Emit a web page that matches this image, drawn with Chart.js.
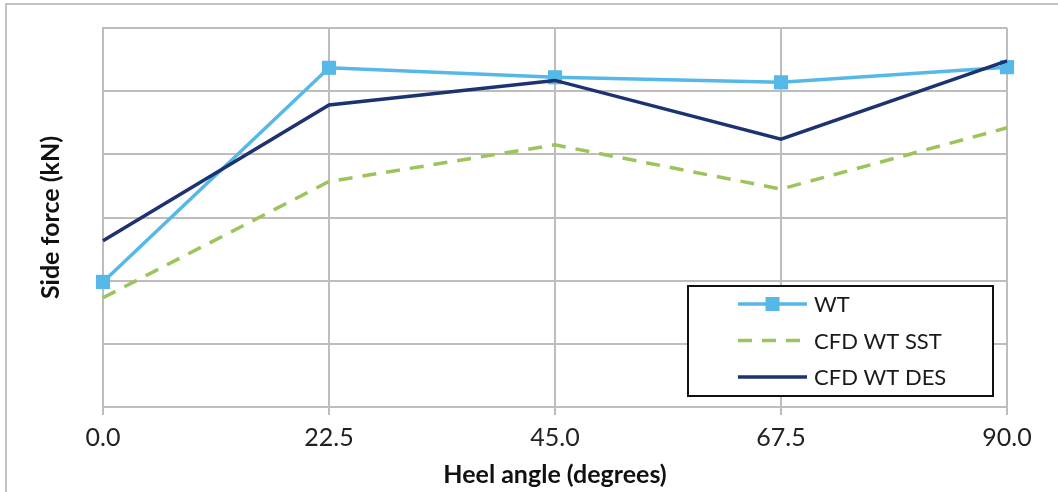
<!DOCTYPE html>
<html>
<head>
<meta charset="utf-8">
<script src="https://cdn.jsdelivr.net/npm/chart.js@4"></script>
<style>
  html, body { margin: 0; padding: 0; background: #fff; }
  #wrap { width: 1058px; height: 492px; position: relative; }
</style>
</head>
<body>
<div id="wrap"><canvas id="side_force_chart"></canvas></div>
<script>
// Heel angles (degrees) and side force readings
const heelAngles = [0, 22.5, 45, 67.5, 90];
const wtValues = [1.98, 5.37, 5.22, 5.14, 5.38];
const sstValues = [1.73, 3.57, 4.15, 3.45, 4.42];
const desValues = [2.63, 4.78, 5.17, 4.24, 5.48];
const xTicks = [0, 22.5, 45, 67.5, 90];

const seriesColours = {
  "WT": "#56B8E8",
  "CFD WT SST": "#9DC35B",
  "CFD WT DES": "#1D3270"
};

const fontFamily = "Lato, 'Open Sans', sans-serif";
const gridColour = "#BDBDBD";

function to_points(values) {
  return heelAngles.map((angle, i) => ({x: angle, y: values[i]}));
}

// outer frame of the original figure (only top and left edges are in view)
const framePlugin = {
  id: 'frame',
  beforeDraw(chart) {
    const ctx = chart.ctx;
    ctx.save();
    ctx.strokeStyle = "#B0B0B0";
    ctx.lineWidth = 1.5;
    ctx.beginPath();
    ctx.moveTo(6, chart.height);
    ctx.lineTo(6, 4);
    ctx.lineTo(chart.width, 4);
    ctx.stroke();
    ctx.restore();
  }
};

// boxed legend sitting inside the plot area, bottom right
const boxLegendPlugin = {
  id: 'boxLegend',
  afterDatasetsDraw(chart) {
    const ctx = chart.ctx;
    const area = chart.chartArea;
    const boxX = area.right - 319, boxY = area.bottom - 121, boxW = 305, boxH = 110;
    ctx.save();
    ctx.fillStyle = "#fff";
    ctx.fillRect(boxX, boxY, boxW, boxH);
    ctx.strokeStyle = "#111";
    ctx.lineWidth = 2;
    ctx.strokeRect(boxX, boxY, boxW, boxH);
    chart.data.datasets.forEach((ds, i) => {
      const rowY = boxY + 18 + i * 36.5;
      const x0 = boxX + 50, x1 = boxX + 119;
      ctx.strokeStyle = ds.borderColor;
      ctx.lineWidth = 3.5;
      ctx.setLineDash(ds.borderDash || []);
      ctx.beginPath();
      ctx.moveTo(x0, rowY);
      ctx.lineTo(x1, rowY);
      ctx.stroke();
      ctx.setLineDash([]);
      if (ds.pointRadius > 0) {
        ctx.fillStyle = ds.borderColor;
        ctx.fillRect((x0 + x1) / 2 - 7, rowY - 7, 14, 14);
      }
      ctx.fillStyle = "#1a1a1a";
      ctx.font = "22px " + fontFamily;
      ctx.textBaseline = "middle";
      ctx.fillText(ds.label, boxX + 126, rowY + 1);
    });
    ctx.restore();
  }
};

const graph = document.getElementById('side_force_chart');
new Chart(graph, {
  type: 'line',
  data: {
    datasets: [{
      label: "WT",
      data: to_points(wtValues),
      order: 3,
      clip: 12,
      borderColor: seriesColours["WT"],
      backgroundColor: seriesColours["WT"],
      borderWidth: 3.5,
      pointStyle: 'rect',
      pointRadius: 10,
      pointBorderWidth: 0,
      tension: 0
    }, {
      label: "CFD WT SST",
      data: to_points(sstValues),
      order: 2,
      clip: 12,
      borderColor: seriesColours["CFD WT SST"],
      backgroundColor: seriesColours["CFD WT SST"],
      borderWidth: 3.5,
      borderDash: [14, 10],
      pointRadius: 0,
      tension: 0
    }, {
      label: "CFD WT DES",
      data: to_points(desValues),
      order: 1,
      clip: 12,
      borderColor: seriesColours["CFD WT DES"],
      backgroundColor: seriesColours["CFD WT DES"],
      borderWidth: 3.5,
      pointRadius: 0,
      tension: 0
    }]
  },
  options: {
    responsive: true,
    maintainAspectRatio: false,
    animation: false,
    layout: { padding: { left: 0, right: 51, top: 28, bottom: 0 } },
    plugins: {
      legend: { display: false },
      tooltip: { enabled: false }
    },
    scales: {
      x: {
        type: 'linear',
        min: 0,
        max: 90,
        afterBuildTicks: scale => { scale.ticks = xTicks.map(v => ({value: v})); },
        afterFit: scale => { scale.height = 85; },
        grid: { color: gridColour, lineWidth: 2, tickLength: 8, drawTicks: true },
        border: { color: gridColour, width: 2 },
        ticks: {
          callback: v => Number(v).toFixed(1),
          font: { family: fontFamily, size: 25 },
          color: "#222",
          padding: 8,
          maxRotation: 0
        },
        title: {
          display: true,
          text: "Heel angle (degrees)",
          font: { family: fontFamily, size: 25, weight: 'bold' },
          color: "#111",
          padding: { top: 0, bottom: 2 }
        }
      },
      y: {
        min: 0,
        max: 6,
        afterFit: scale => { scale.width = 103; },
        grid: { color: gridColour, lineWidth: 2, drawTicks: false },
        border: { color: gridColour, width: 2 },
        ticks: { display: false, stepSize: 1 },
        title: {
          display: true,
          text: "Side force (kN)",
          font: { family: fontFamily, size: 25, weight: 'bold' },
          color: "#111",
          padding: { top: 36, bottom: 0 }
        }
      }
    }
  },
  plugins: [framePlugin, boxLegendPlugin]
});
</script>
</body>
</html>
